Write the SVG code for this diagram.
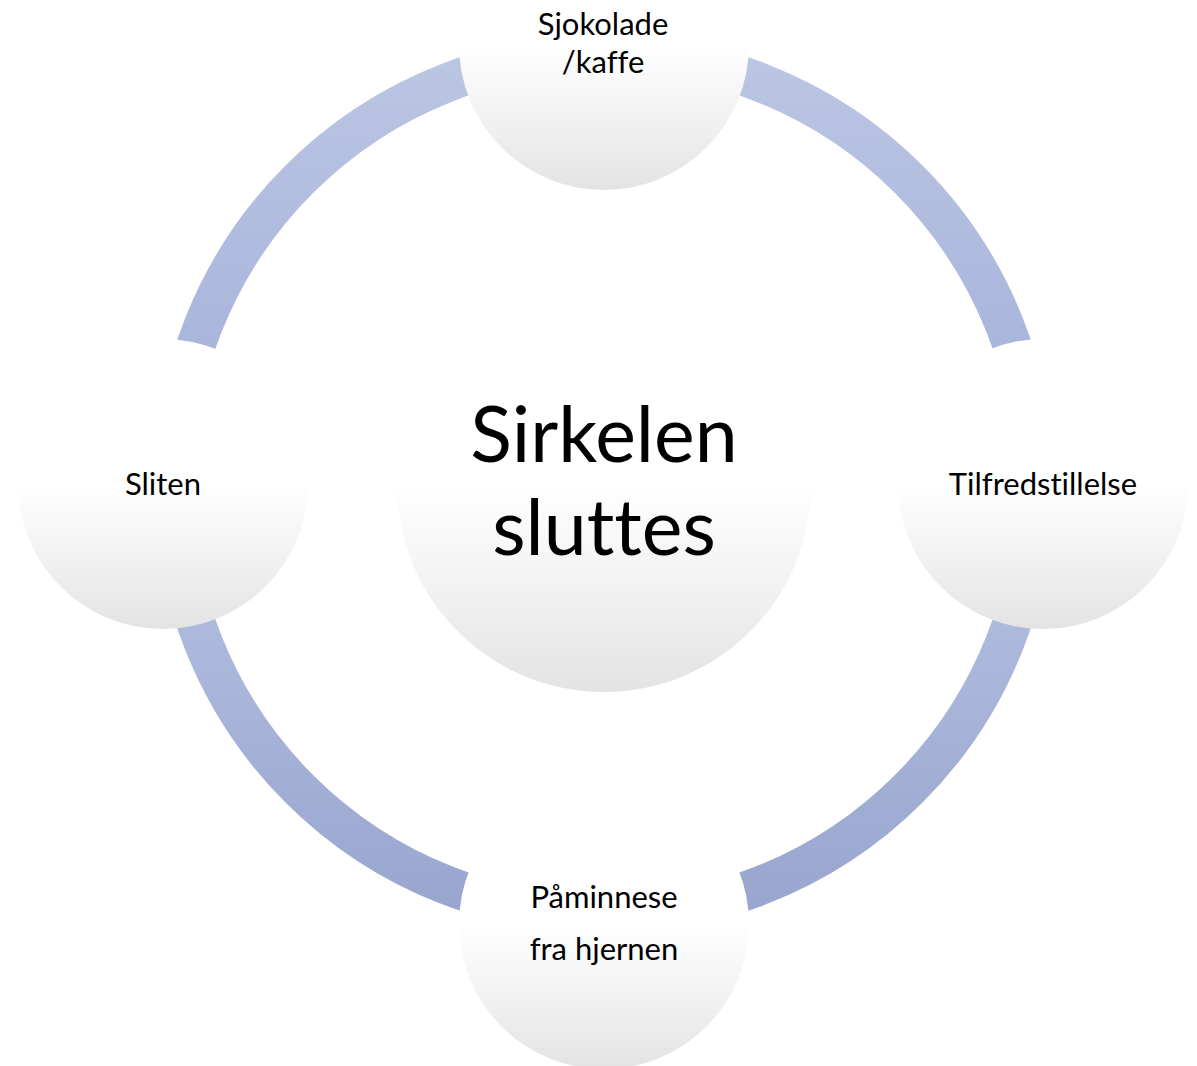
<svg xmlns="http://www.w3.org/2000/svg" width="1197" height="1066" viewBox="0 0 1197 1066">
<style>
  .node { stroke: none; }
  .lbl { font-family: Lato, "Open Sans", "Liberation Sans", sans-serif; fill: #000000; text-anchor: middle; font-variant-ligatures: none; font-feature-settings: "liga" 0, "clig" 0, "dlig" 0; }
  .sm { font-size: 31px; }
  .big { font-size: 77px; }
  .arc { fill: none; stroke-width: 39; }
</style>
<defs>
  <linearGradient id="nodeFill" x1="0" y1="0" x2="0" y2="1">
    <stop offset="0" stop-color="#ffffff"/>
    <stop offset="0.5" stop-color="#ffffff"/>
    <stop offset="0.8" stop-color="#efefef"/>
    <stop offset="1" stop-color="#e3e3e3"/>
  </linearGradient>
  <linearGradient id="arcTop" gradientUnits="userSpaceOnUse" x1="0" y1="53" x2="0" y2="484">
    <stop offset="0" stop-color="#bbc6e4"/>
    <stop offset="1" stop-color="#a1aed7"/>
  </linearGradient>
  <linearGradient id="arcBot" gradientUnits="userSpaceOnUse" x1="0" y1="484" x2="0" y2="915">
    <stop offset="0" stop-color="#b8c4e3"/>
    <stop offset="1" stop-color="#98a5ce"/>
  </linearGradient>
</defs>

<g id="connectors">
  <path class="arc" stroke="url(#arcTop)" d="M 604 53 A 431 431 0 0 1 1035 484"/>
  <path class="arc" stroke="url(#arcBot)" d="M 1035 484 A 431 431 0 0 1 604 915"/>
  <path class="arc" stroke="url(#arcBot)" d="M 604 915 A 431 431 0 0 1 173 484"/>
  <path class="arc" stroke="url(#arcTop)" d="M 173 484 A 431 431 0 0 1 604 53"/>
</g>

<g id="node-center">
  <circle class="node" cx="604" cy="485" r="207" fill="url(#nodeFill)"/>
  <text class="lbl big" x="604" y="462">Sirkelen</text>
  <text class="lbl big" x="604" y="555">sluttes</text>
</g>

<g id="node-top">
  <circle class="node" cx="604" cy="45" r="145" fill="url(#nodeFill)"/>
  <text class="lbl sm" x="603" y="35">Sjokolade</text>
  <text class="lbl sm" x="603" y="73">/kaffe</text>
</g>

<g id="node-right">
  <circle class="node" cx="1043" cy="484" r="145" fill="url(#nodeFill)"/>
  <text class="lbl sm" x="1043" y="495">Tilfredstillelse</text>
</g>

<g id="node-bottom">
  <circle class="node" cx="604" cy="924" r="145" fill="url(#nodeFill)"/>
  <text class="lbl sm" x="604" y="908">Påminnese</text>
  <text class="lbl sm" x="604" y="960">fra hjernen</text>
</g>

<g id="node-left">
  <circle class="node" cx="163" cy="484" r="145" fill="url(#nodeFill)"/>
  <text class="lbl sm" x="163" y="495">Sliten</text>
</g>
</svg>
